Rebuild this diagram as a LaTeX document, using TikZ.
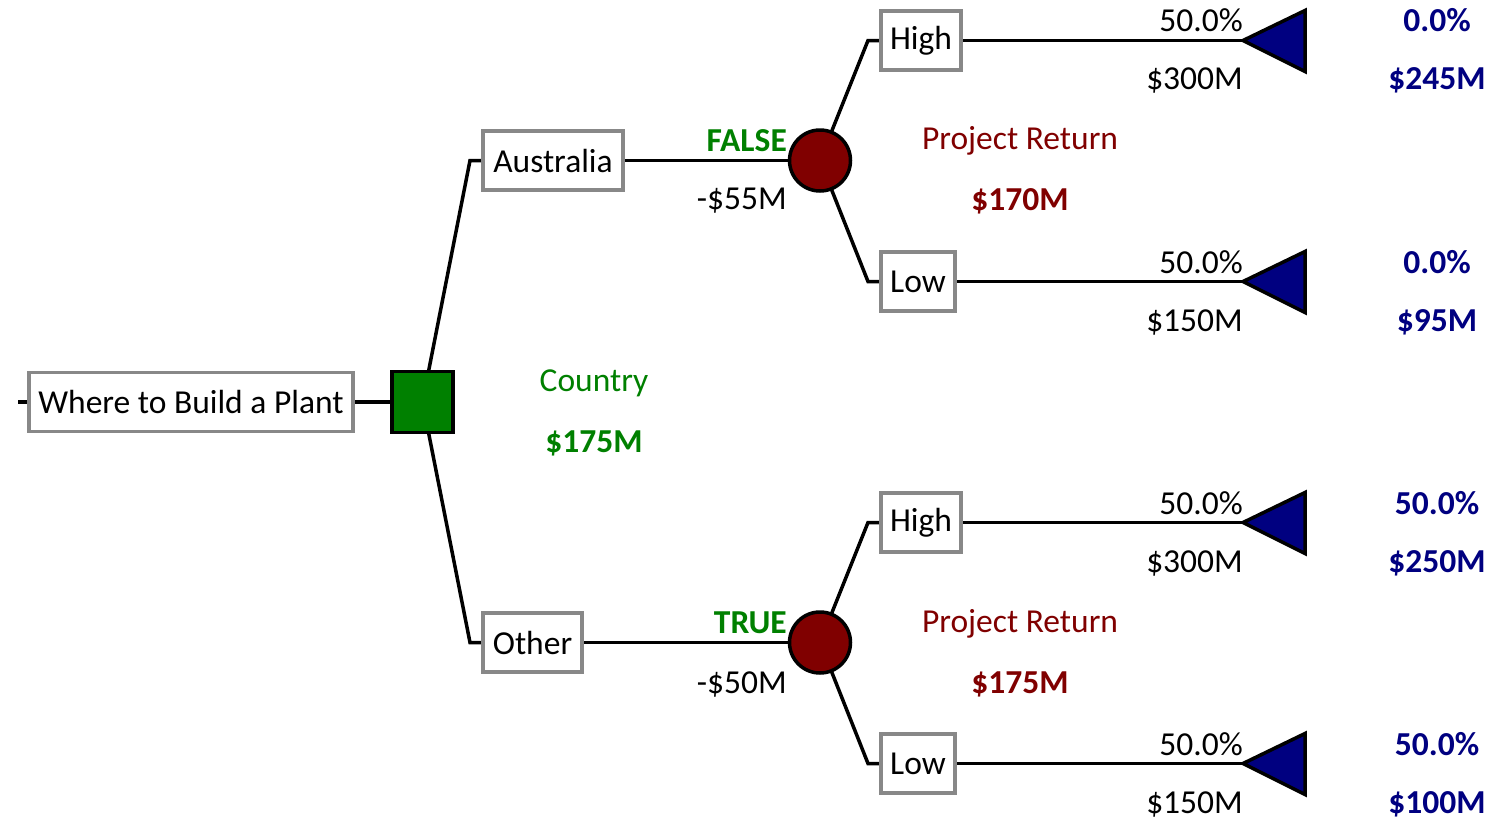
\documentclass[tikz,border=0pt]{standalone}
\usepackage{fontspec}
\setmainfont{Carlito}
\usetikzlibrary{backgrounds}
\definecolor{dgreen}{RGB}{0,128,0}
\definecolor{dred}{RGB}{128,0,0}
\definecolor{dnavy}{RGB}{0,0,128}
\definecolor{boxgray}{RGB}{136,136,136}
\newcommand{\fsz}{\fontsize{33.5}{38}\selectfont}
\begin{document}
\begin{tikzpicture}[x=1pt,y=-1pt,
  every node/.style={font=\fsz},
  lbl/.style={draw=boxgray,line width=3.5pt,fill=white,minimum height=59pt,inner sep=0pt,text=black},
  conn/.style={line width=3.5pt,draw=black},
  decnode/.style={draw=black,line width=3.5pt,fill=dgreen,minimum size=61pt,inner sep=0pt},
  chance/.style={circle,draw=black,line width=3.5pt,fill=dred,minimum size=61pt,inner sep=0pt},
  term/.style={draw=black,line width=3.5pt,fill=dnavy,line join=miter},
  rtxt/.style={anchor=east,inner sep=0pt,text=black},
  ctxt/.style={inner sep=0pt},
  bold/.style={font=\fsz\bfseries},
  bvalue/.style={inner sep=0pt,text=dnavy,font=\fsz\bfseries}
]
\useasboundingbox (0,0) rectangle (1489,822);

% nodes
\node[lbl,minimum width=324pt] (root) at (191,402) {Where to Build a Plant};
\node[decnode] (dec) at (422.5,402) {};
\node[lbl,minimum width=140pt] (aus) at (553,160.5) {Australia};
\node[lbl,minimum width=99pt] (oth) at (532.5,642.5) {Other};
\node[chance] (c1) at (820,160.5) {};
\node[chance] (c2) at (820,642.5) {};
\node[lbl,minimum width=80pt] (h1) at (921,40.5) {High};
\node[lbl,minimum width=74pt] (l1) at (918,281.5) {Low};
\node[lbl,minimum width=80pt] (h2) at (921,522.5) {High};
\node[lbl,minimum width=74pt] (l2) at (918,763.5) {Low};

% corner / end coordinates
\coordinate (s0) at (18,402);
\coordinate (ka) at (470,160.5);
\coordinate (ko) at (470,642.5);
\coordinate (kh1) at (868,40.5);
\coordinate (kl1) at (868,281.5);
\coordinate (kh2) at (868,522.5);
\coordinate (kl2) at (868,763.5);
\coordinate (t1) at (1243,40.5);
\coordinate (t2) at (1243,281.5);
\coordinate (t3) at (1243,522.5);
\coordinate (t4) at (1243,763.5);

\begin{pgfonlayer}{background}
\draw[conn] (s0) -- (root.west);
\draw[conn] (root.east) -- (dec.west);
\draw[conn] (dec.center) -- (ka) -- (aus.west);
\draw[conn] (dec.center) -- (ko) -- (oth.west);
\draw[conn] (aus.east) -- (c1.center);
\draw[conn] (oth.east) -- (c2.center);
\draw[conn] (c1.center) -- (kh1) -- (h1.west);
\draw[conn] (c1.center) -- (kl1) -- (l1.west);
\draw[conn] (c2.center) -- (kh2) -- (h2.west);
\draw[conn] (c2.center) -- (kl2) -- (l2.west);
\draw[conn] (h1.east) -- (t1);
\draw[conn] (l1.east) -- (t2);
\draw[conn] (h2.east) -- (t3);
\draw[conn] (l2.east) -- (t4);
\end{pgfonlayer}

% terminal triangles
\foreach \t in {t1,t2,t3,t4}{
  \draw[term] (\t) -- ++(62,-30) -- ++(0,61) -- cycle;
}

% branch labels
\node[rtxt,text=dgreen,bold] (fl) at (787,141) {FALSE};
\node[rtxt] (v1) at (787,201) {-\$55M};
\node[rtxt,text=dgreen,bold] (tl) at (787,623) {TRUE};
\node[rtxt] (v2) at (787,684) {-\$50M};

\node[ctxt,text=dgreen] (cn) at (594,383) {Country};
\node[ctxt,text=dgreen,bold] (cv) at (594,443) {\$175M};

\node[ctxt,text=dred] (pr1) at (1020,141) {Project Return};
\node[ctxt,text=dred,bold] (pv1) at (1020,201) {\$170M};
\node[ctxt,text=dred] (pr2) at (1020,624) {Project Return};
\node[ctxt,text=dred,bold] (pv2) at (1020,684) {\$175M};

\node[rtxt] (p1) at (1243,20) {50.0\%};
\node[rtxt] (q1) at (1243,80) {\$300M};
\node[rtxt] (p2) at (1243,262) {50.0\%};
\node[rtxt] (q2) at (1243,322) {\$150M};
\node[rtxt] (p3) at (1243,503) {50.0\%};
\node[rtxt] (q3) at (1243,563) {\$300M};
\node[rtxt] (p4) at (1243,744) {50.0\%};
\node[rtxt] (q4) at (1243,804) {\$150M};

\node[bvalue] (r1) at (1437,20) {0.0\%};
\node[bvalue] (s1) at (1437,80) {\$245M};
\node[bvalue] (r2) at (1437,262) {0.0\%};
\node[bvalue] (s2) at (1437,322) {\$95M};
\node[bvalue] (r3) at (1437,503) {50.0\%};
\node[bvalue] (s3) at (1437,563) {\$250M};
\node[bvalue] (r4) at (1437,744) {50.0\%};
\node[bvalue] (s4) at (1437,804) {\$100M};
\end{tikzpicture}
\end{document}
